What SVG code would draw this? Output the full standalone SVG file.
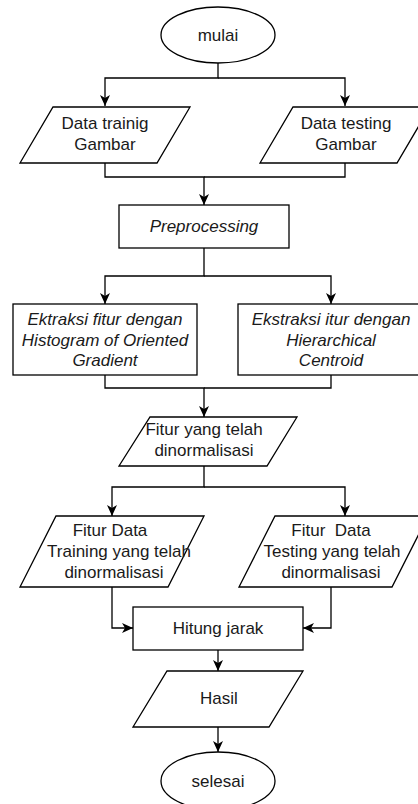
<svg xmlns="http://www.w3.org/2000/svg" width="418" height="804" viewBox="0 0 418 804">
<style>
.shape{fill:#ffffff;stroke:#000000;stroke-width:1.3}
.lbl{font-family:"Liberation Sans",Arial,sans-serif;font-size:17px;fill:#1a1a1a;text-anchor:middle}
.it{font-style:italic}
.conn{fill:none;stroke:#000000;stroke-width:1.3}
</style>
<defs>
<marker id="arr" markerUnits="userSpaceOnUse" markerWidth="12" markerHeight="10" refX="11" refY="5" orient="auto">
<path d="M0,0 L11,5 L0,10 L3,5 Z" fill="#000000"/>
</marker>
</defs>
<rect width="418" height="804" fill="#ffffff"/>
<g id="connectors">
<path class="conn" d="M218,63 V78 H105 V106" marker-end="url(#arr)"/>
<path class="conn" d="M218,78 H345 V106" marker-end="url(#arr)"/>
<path class="conn" d="M105,163 V177 H204 V205" marker-end="url(#arr)"/>
<path class="conn" d="M345,163 V177 H204"/>
<path class="conn" d="M204,248 V276 H105 V304" marker-end="url(#arr)"/>
<path class="conn" d="M204,276 H331 V304" marker-end="url(#arr)"/>
<path class="conn" d="M105,375 V388 H204 V417" marker-end="url(#arr)"/>
<path class="conn" d="M331,375 V388 H204"/>
<path class="conn" d="M204,466 V487 H112 V516" marker-end="url(#arr)"/>
<path class="conn" d="M204,487 H345 V516" marker-end="url(#arr)"/>
<path class="conn" d="M112,587 V628 H133" marker-end="url(#arr)"/>
<path class="conn" d="M331,587 V628 H303" marker-end="url(#arr)"/>
<path class="conn" d="M218,650 V671" marker-end="url(#arr)"/>
<path class="conn" d="M218,727 V752" marker-end="url(#arr)"/>
</g>
<g id="mulai">
<ellipse class="shape" cx="218" cy="35" rx="57" ry="28"/>
<text class="lbl" x="218" y="41">mulai</text>
</g>
<g id="data-training">
<polygon class="shape" points="53,107 190,107 157,163 20,163"/>
<text class="lbl" x="105" y="129">Data trainig</text>
<text class="lbl" x="105" y="150">Gambar</text>
</g>
<g id="data-testing">
<polygon class="shape" points="293,107 430,107 397,163 260,163"/>
<text class="lbl" x="346" y="129">Data testing</text>
<text class="lbl" x="346" y="150">Gambar</text>
</g>
<g id="preprocessing">
<rect class="shape" x="119" y="205" width="170" height="43"/>
<text class="lbl it" x="204" y="232">Preprocessing</text>
</g>
<g id="ekstraksi-hog">
<rect class="shape" x="13" y="304" width="184" height="71"/>
<text class="lbl it" x="105" y="325">Ektraksi fitur dengan</text>
<text class="lbl it" x="105" y="345.5">Histogram of Oriented</text>
<text class="lbl it" x="105" y="366">Gradient</text>
</g>
<g id="ekstraksi-hc">
<rect class="shape" x="238" y="304" width="184" height="71"/>
<text class="lbl it" x="331" y="325">Ekstraksi itur dengan</text>
<text class="lbl it" x="331" y="345.5">Hierarchical</text>
<text class="lbl it" x="331" y="366">Centroid</text>
</g>
<g id="fitur-normalisasi">
<polygon class="shape" points="150,417 297,417 267,466 119,466"/>
<text class="lbl" x="204" y="435">Fitur yang telah</text>
<text class="lbl" x="204" y="456">dinormalisasi</text>
</g>
<g id="fitur-training">
<polygon class="shape" points="56,516 204,516 168,587 20,587"/>
<text class="lbl" x="110" y="536">Fitur Data</text>
<text class="lbl" x="119" y="557">Training yang telah</text>
<text class="lbl" x="114" y="578">dinormalisasi</text>
</g>
<g id="fitur-testing">
<polygon class="shape" points="275,516 428,516 392,587 239,587"/>
<text class="lbl" x="331" y="536" style="white-space:pre">Fitur  Data</text>
<text class="lbl" x="332" y="557">Testing yang telah</text>
<text class="lbl" x="331" y="578">dinormalisasi</text>
</g>
<g id="hitung-jarak">
<rect class="shape" x="133" y="607" width="170" height="43"/>
<text class="lbl" x="218" y="634">Hitung jarak</text>
</g>
<g id="hasil">
<polygon class="shape" points="167,671 303,671 269,727 133,727"/>
<text class="lbl" x="219" y="704">Hasil</text>
</g>
<g id="selesai">
<ellipse class="shape" cx="218" cy="781" rx="57" ry="29"/>
<text class="lbl" x="218" y="787">selesai</text>
</g>
</svg>
